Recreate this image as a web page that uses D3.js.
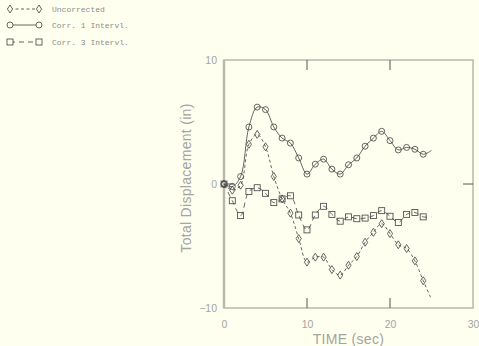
<!DOCTYPE html>
<html>
<head>
<meta charset="utf-8">
<script src="https://cdn.jsdelivr.net/npm/d3@7"></script>
<style>
  html, body { margin: 0; padding: 0; background: #fffff0; }
  svg { display: block; }
</style>
</head>
<body>
<svg id="chart" width="479" height="346"></svg>
<script>
// Time samples (sec)
const times = [0,1,2,3,4,5,6,7,8,9,10,11,12,13,14,15,16,17,18,19,20,21,22,23,24,25];

// Total displacement (in) for each record
const uncorrected = [0,-0.5,-0.1,3.2,4.0,3.0,0.6,-1.2,-2.35,-4.4,-6.3,-5.9,-5.9,-6.9,-7.35,-6.55,-5.85,-4.7,-3.9,-3.2,-4.0,-4.9,-5.2,-6.2,-7.8,-9.3];
const corr1 = [0,-0.2,0.6,4.6,6.2,6.0,4.6,3.7,3.3,2.1,0.8,1.6,2.0,1.2,0.8,1.55,2.1,3.05,3.7,4.25,3.5,2.75,2.95,2.8,2.4,2.7];
const corr3 = [0,-1.35,-2.55,-0.6,-0.3,-0.75,-1.5,-1.2,-0.95,-2.5,-3.7,-2.5,-1.8,-2.45,-3.0,-2.65,-2.8,-2.75,-2.55,-2.15,-2.6,-3.1,-2.45,-2.3,-2.65,-2.65];

const seriesNames = ["Uncorrected", "Corr. 1 Intervl.", "Corr. 3 Intervl."];

const xTicks = [0, 10, 20, 30];
const yTicks = [-10, 0, 10];
const xTitle = "TIME (sec)";
const yTitle = "Total Displacement (in)";

const svg = d3.select("#chart");
const ink = "#4a4a4a";
const textGray = "#a4a4a0";
const frameGray = "#b8b8ac";

const x = d3.scaleLinear().domain([0, 30]).range([224, 473]);
const y = d3.scaleLinear().domain([-10, 10]).range([308, 60]);

const series = [
  { name: seriesNames[0], values: uncorrected, dash: "3,2.5", marker: "diamond" },
  { name: seriesNames[1], values: corr1, dash: null, marker: "circle" },
  { name: seriesNames[2], values: corr3, dash: "5,4", marker: "square" }
];

// Plot frame
svg.append("rect")
  .attr("x", x(0)).attr("y", y(10))
  .attr("width", x(30) - x(0)).attr("height", y(-10) - y(10))
  .attr("fill", "none").attr("stroke", frameGray).attr("stroke-width", 1.5);
svg.append("line")
  .attr("x1", x(0)).attr("x2", x(0)).attr("y1", y(10)).attr("y2", y(-10))
  .attr("stroke", frameGray).attr("stroke-width", 2.5);

// Inward tick marks on all four sides
const tickLen = 10;
const innerX = xTicks.filter(d => d > 0 && d < 30);
const innerY = yTicks.filter(d => d > -10 && d < 10);
const tg = svg.append("g").attr("stroke", "#555").attr("stroke-width", 1);
innerX.forEach(d => {
  tg.append("line").attr("x1", x(d)).attr("x2", x(d)).attr("y1", y(10)).attr("y2", y(10) + tickLen);
  tg.append("line").attr("x1", x(d)).attr("x2", x(d)).attr("y1", y(-10)).attr("y2", y(-10) - tickLen);
});
innerY.forEach(d => {
  tg.append("line").attr("x1", x(30)).attr("x2", x(30) - tickLen).attr("y1", y(d)).attr("y2", y(d));
  tg.append("line").attr("x1", x(0)).attr("x2", x(0) + tickLen).attr("y1", y(d)).attr("y2", y(d));
});

// Tick labels via d3 axes
const xAxis = svg.append("g")
  .attr("transform", `translate(0,${y(-10)})`)
  .call(d3.axisBottom(x).tickValues(xTicks).tickSize(0).tickPadding(13).tickFormat(d3.format("d")));
const yAxis = svg.append("g")
  .attr("transform", `translate(${x(0)},0)`)
  .call(d3.axisLeft(y).tickValues(yTicks).tickSize(0).tickPadding(7).tickFormat(d3.format("d")));
[xAxis, yAxis].forEach(g => {
  g.select(".domain").remove();
  g.selectAll("text")
    .attr("fill", textGray)
    .style("font-family", "'Liberation Sans', Arial, sans-serif")
    .style("font-size", "10.5px");
});

// Axis titles
svg.append("text")
  .attr("x", (x(0) + x(30)) / 2).attr("y", 344)
  .attr("text-anchor", "middle")
  .attr("fill", textGray)
  .style("font-family", "'Liberation Sans', Arial, sans-serif")
  .style("font-size", "14px")
  .style("letter-spacing", "0.3px")
  .text(xTitle);
svg.append("text")
  .attr("transform", `translate(191,178) rotate(-90)`)
  .attr("text-anchor", "middle")
  .attr("fill", textGray)
  .style("font-family", "'Liberation Sans', Arial, sans-serif")
  .style("font-size", "14px")
  .style("letter-spacing", "0.3px")
  .text(yTitle);

// Marker shapes
function drawMarker(g, kind, cx, cy) {
  if (kind === "circle") {
    g.append("circle").attr("cx", cx).attr("cy", cy).attr("r", 3);
  } else if (kind === "square") {
    g.append("rect").attr("x", cx - 3).attr("y", cy - 3).attr("width", 6).attr("height", 6);
  } else {
    g.append("path").attr("d", `M${cx},${cy - 4}L${cx + 2.6},${cy}L${cx},${cy + 4}L${cx - 2.6},${cy}Z`);
  }
}

// Curves and markers
const line = d3.line()
  .x((d, i) => x(times[i]))
  .y(d => y(d))
  .curve(d3.curveCatmullRom.alpha(0.5));

series.forEach(s => {
  svg.append("path")
    .datum(s.values)
    .attr("d", line)
    .attr("fill", "none")
    .attr("stroke", ink)
    .attr("stroke-width", 0.85)
    .attr("stroke-dasharray", s.dash);
  const mg = svg.append("g").attr("fill", "none").attr("stroke", ink).attr("stroke-width", 0.85);
  s.values.forEach((v, i) => {
    if (times[i] < 25) drawMarker(mg, s.marker, x(times[i]), y(v));
  });
});

// Legend
const legendRows = [9, 25, 42];
series.forEach((s, i) => {
  const ly = legendRows[i];
  const g = svg.append("g");
  g.append("line")
    .attr("x1", 10).attr("x2", 39).attr("y1", ly).attr("y2", ly)
    .attr("stroke", ink).attr("stroke-width", 0.85)
    .attr("stroke-dasharray", s.dash);
  const mg = g.append("g").attr("fill", "#fffff0").attr("stroke", ink).attr("stroke-width", 0.85);
  drawMarker(mg, s.marker, 10, ly);
  drawMarker(mg, s.marker, 39, ly);
  g.append("text")
    .attr("x", 52).attr("y", ly + 3)
    .attr("fill", "#8c8c88")
    .style("font-family", "'Liberation Mono', 'Courier New', monospace")
    .style("font-size", "8px")
    .text(s.name);
});
</script>
</body>
</html>
